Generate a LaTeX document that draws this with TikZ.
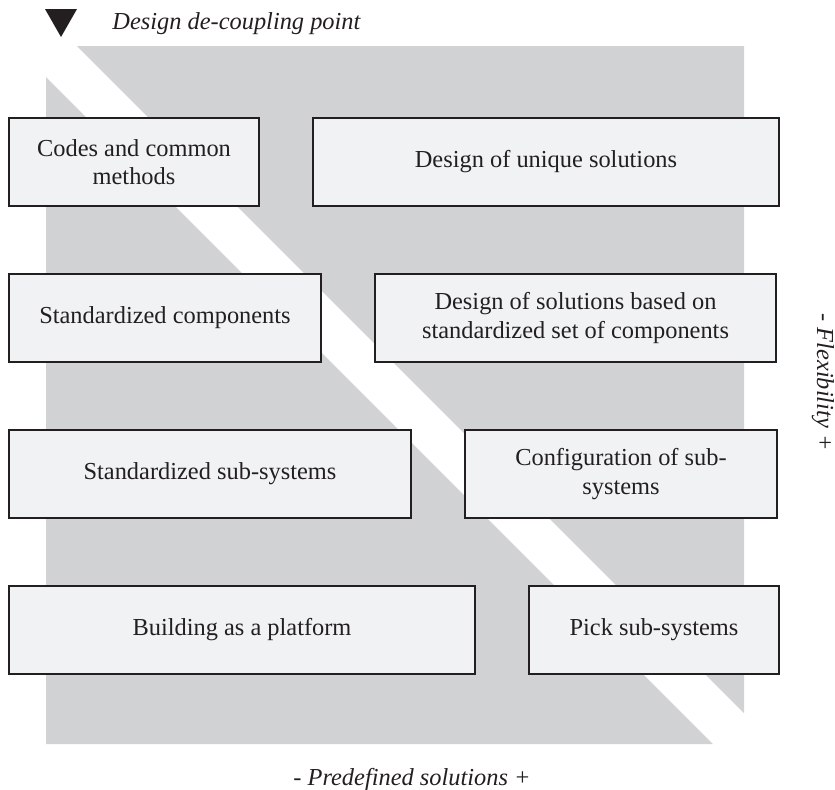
\documentclass[tikz,border=0pt]{standalone}
\usepackage{fontspec}
\setmainfont{Liberation Serif}
\usetikzlibrary{positioning}
\definecolor{panelgray}{HTML}{D1D2D4}
\definecolor{boxfill}{HTML}{F1F2F4}
\definecolor{inkdark}{HTML}{231F20}

\begin{document}
\begin{tikzpicture}[
    x=0.5pt, y=-0.5pt,
    node distance=33pt and 26pt,
    sbox/.style={rectangle, minimum height=44pt, inner sep=2pt, text centered, align=center, draw=inkdark, fill=boxfill, line width=1pt, text=inkdark, font=\fontsize{12.2}{14.3}\selectfont},
    slabel/.style={font=\fontsize{12.2}{14.3}\selectfont\itshape, text=inkdark, inner sep=0pt}
]
\useasboundingbox (0,0) rectangle (835,789);
% gray panel cut by the white diagonal
\fill[panelgray] (77,46) -- (744,46) -- (744,713) -- cycle;
\fill[panelgray] (46,77) -- (713,744) -- (46,744) -- cycle;
\fill[inkdark] (45,9) -- (77,9) -- (61,37) -- cycle;
\node[slabel, anchor=base west] (dcp) at (112,29) {Design de-coupling point};
% rows of boxes
\node[sbox, anchor=north west, minimum width=125pt] (codes) at (8,117) {Codes and common\\methods};
\node[sbox, right=of codes, minimum width=233pt] (unique) {Design of unique solutions};
\node[sbox, below=of codes.south west, anchor=north west, minimum width=156pt] (stdcomp) {Standardized components};
\node[sbox, right=of stdcomp, minimum width=200.5pt] (based) {Design of solutions based on\\standardized set of components};
\node[sbox, below=of stdcomp.south west, anchor=north west, minimum width=201pt] (stdsub) {Standardized sub-systems};
\node[sbox, right=of stdsub, minimum width=156pt] (config) {Configuration of sub-\\systems};
\node[sbox, below=of stdsub.south west, anchor=north west, minimum width=233pt] (platform) {Building as a platform};
\node[sbox, right=of platform, minimum width=125pt] (pick) {Pick sub-systems};
% axis labels
\node[slabel, anchor=base] (predef) at (412,785) {- Predefined solutions +};
\node[slabel, anchor=base, rotate=-90] (flex) at (817,382) {- Flexibility +};
\end{tikzpicture}
\end{document}
